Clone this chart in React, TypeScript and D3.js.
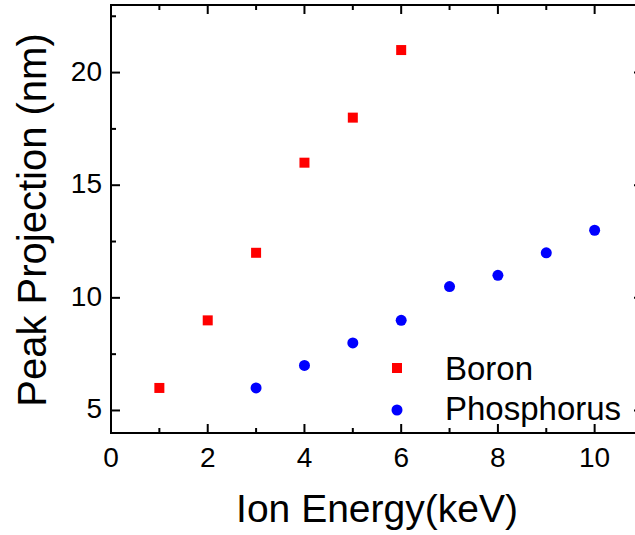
import React from "react";
import * as d3 from "d3";

const boronX = [1, 2, 3, 4, 5, 6];
const boronY = [6, 9, 12, 16, 18, 21];
const phosX = [3, 4, 5, 6, 7, 8, 9, 10];
const phosY = [6, 7, 8, 9, 10.5, 11, 12, 13];
const xTicks = [0, 2, 4, 6, 8, 10];
const yTicks = [5, 10, 15, 20];
const xMinor = [1, 3, 5, 7, 9, 11];
const yMinor = [7.5, 12.5, 17.5, 22.5];

const W = 635, H = 535;
const L = 111, R = 643, T = 5, B = 433;

export default function App() {
  const x = d3.scaleLinear().domain([0, 11]).range([L, R]);
  const y = d3.scaleLinear().domain([4, 23]).range([B, T]);
  const font = "Liberation Sans, Arial, sans-serif";
  const sq = 10;
  return (
    <svg width={W} height={H} style={{ position: "absolute", left: 0, top: 0, background: "#fff" }}>
      <rect x={0} y={0} width={W} height={H} fill="#fff" />
      <g stroke="#000" strokeWidth={2} fill="none">
        <rect x={L} y={T} width={R - L} height={B - T} />
        {xTicks.map((t) => (
          <g key={"xt" + t}>
            <line x1={x(t)} x2={x(t)} y1={B} y2={B - 9} />
            <line x1={x(t)} x2={x(t)} y1={T} y2={T + 9} />
          </g>
        ))}
        {xMinor.map((t) => (
          <g key={"xm" + t}>
            <line x1={x(t)} x2={x(t)} y1={B} y2={B - 5} />
            <line x1={x(t)} x2={x(t)} y1={T} y2={T + 5} />
          </g>
        ))}
        {yTicks.map((t) => (
          <g key={"yt" + t}>
            <line x1={L} x2={L + 9} y1={y(t)} y2={y(t)} />
            <line x1={R} x2={R - 9} y1={y(t)} y2={y(t)} />
          </g>
        ))}
        {yMinor.map((t) => (
          <g key={"ym" + t}>
            <line x1={L} x2={L + 5} y1={y(t)} y2={y(t)} />
            <line x1={R} x2={R - 5} y1={y(t)} y2={y(t)} />
          </g>
        ))}
      </g>
      <g fontFamily={font} fontSize={28} fill="#000">
        {xTicks.map((t) => (
          <text key={"xl" + t} x={x(t)} y={B + 34} textAnchor="middle">{t}</text>
        ))}
        {yTicks.map((t) => (
          <text key={"yl" + t} x={L - 9} y={y(t) + 8} textAnchor="end">{t}</text>
        ))}
      </g>
      {boronX.map((v, i) => (
        <rect key={"b" + i} x={x(v) - sq / 2} y={y(boronY[i]) - sq / 2} width={sq} height={sq} fill="#ff0000" />
      ))}
      {phosX.map((v, i) => (
        <circle key={"p" + i} cx={x(v)} cy={y(phosY[i])} r={5.5} fill="#0000ff" />
      ))}
      <rect x={397 - sq / 2} y={368 - sq / 2} width={sq} height={sq} fill="#ff0000" />
      <circle cx={397} cy={410} r={5.5} fill="#0000ff" />
      <g fontFamily={font} fontSize={33} fill="#000">
        <text x={445} y={380}>Boron</text>
        <text x={445} y={420}>Phosphorus</text>
      </g>
      <text x={377} y={522} fontFamily={font} fontSize={39} textAnchor="middle">Ion Energy(keV)</text>
      <text transform={`translate(46,220) rotate(-90)`} fontFamily={font} fontSize={40} textAnchor="middle">Peak Projection (nm)</text>
    </svg>
  );
}
